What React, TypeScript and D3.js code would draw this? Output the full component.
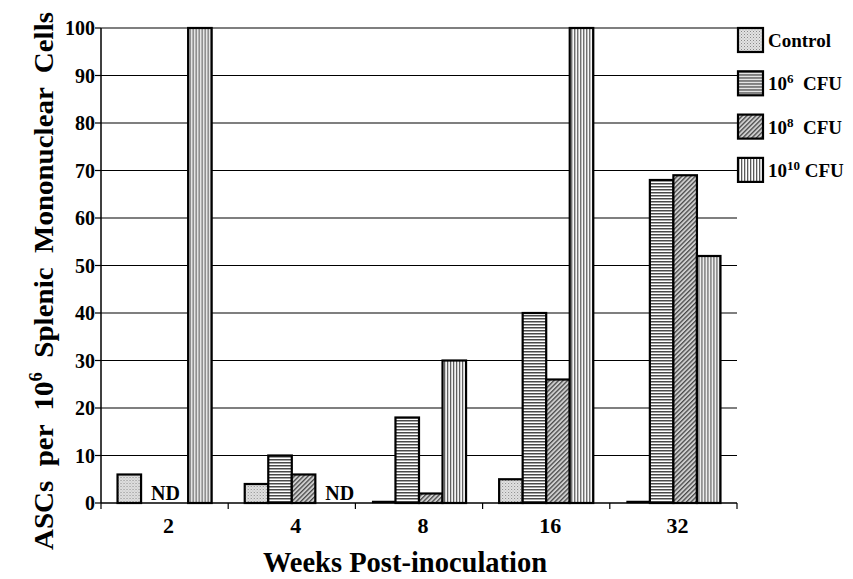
import * as d3 from "d3";

const width = 853;
const height = 579;
const margin = { top: 28, right: 116, bottom: 76, left: 101 };

// data
const weeks = ["2", "4", "8", "16", "32"];
const seriesNames = ["Control", "1e6", "1e8", "1e10"];
const control = [6, 4, 0, 5, 0];
const cfu6 = [null, 10, 18, 40, 68];
const cfu8 = [null, 6, 2, 26, 69];
const cfu10 = [100, null, 30, 100, 52];
const yTicks = [0, 10, 20, 30, 40, 50, 60, 70, 80, 90, 100];
const legendLabels = [
  { base: "Control", exp: "", tail: "" },
  { base: "10", exp: "6", tail: "  CFU" },
  { base: "10", exp: "8", tail: "  CFU" },
  { base: "10", exp: "10", tail: " CFU" },
];

const series: (number | null)[][] = [control, cfu6, cfu8, cfu10];
const fills = ["url(#dots)", "url(#hlines)", "url(#diag)", "url(#vlines)"];
const font = "'Liberation Serif', 'Times New Roman', serif";

const App = () => {
  const x0 = d3
    .scaleBand<string>()
    .domain(weeks)
    .range([margin.left, width - margin.right])
    .paddingInner(0.26)
    .paddingOuter(0.13);
  const x1 = d3
    .scaleBand<string>()
    .domain(seriesNames)
    .range([0, x0.bandwidth()]);
  const y = d3
    .scaleLinear()
    .domain([0, 100])
    .range([height - margin.bottom, margin.top]);

  const step = x0.step();
  const xLeft = margin.left;
  const xRight = width - margin.right;
  const baseY = y(0);

  // ND markers: first missing slot of each run of nulls
  const ndMarks: { week: string; slot: string }[] = [];
  weeks.forEach((w, i) => {
    series.forEach((s, j) => {
      if (s[i] === null && (j === 0 || series[j - 1][i] !== null)) {
        ndMarks.push({ week: w, slot: seriesNames[j] });
      }
    });
  });

  return (
    <svg
      width={width}
      height={height}
      style={{ position: "absolute", left: 0, top: 0, background: "#fff" }}
    >
      <defs>
        <pattern id="dots" width="3" height="3" patternUnits="userSpaceOnUse">
          <rect width="3" height="3" fill="#e2e2e2" />
          <rect x="0" y="0" width="1" height="1" fill="#888" />
          <rect x="1.5" y="1.5" width="1" height="1" fill="#aaa" />
        </pattern>
        <pattern id="hlines" width="4" height="3" patternUnits="userSpaceOnUse">
          <rect width="4" height="3" fill="#fff" />
          <rect y="0" width="4" height="1.5" fill="#4a4a4a" />
        </pattern>
        <pattern
          id="diag"
          width="3.2"
          height="3.2"
          patternUnits="userSpaceOnUse"
          patternTransform="rotate(45)"
        >
          <rect width="3.2" height="3.2" fill="#cfcfcf" />
          <rect width="1.3" height="3.2" fill="#4a4a4a" />
        </pattern>
        <pattern id="vlines" width="3" height="4" patternUnits="userSpaceOnUse">
          <rect width="3" height="4" fill="#fff" />
          <rect x="0" width="1.3" height="4" fill="#5a5a5a" />
        </pattern>
      </defs>

      {/* gridlines and y ticks */}
      {yTicks.map((t) => (
        <g key={t}>
          {t > 0 && (
            <line x1={xLeft} x2={xRight} y1={y(t)} y2={y(t)} stroke="#000" strokeWidth={1.2} />
          )}
          <line x1={xLeft - 6} x2={xLeft} y1={y(t)} y2={y(t)} stroke="#000" strokeWidth={1.2} />
          <text
            x={xLeft - 6}
            y={y(t)}
            dy="0.35em"
            textAnchor="end"
            fontFamily={font}
            fontWeight="bold"
            fontSize={20}
          >
            {t}
          </text>
        </g>
      ))}

      {/* bars */}
      {weeks.map((w, i) => (
        <g key={w} transform={`translate(${x0(w)},0)`}>
          {series.map((s, j) => {
            const v = s[i];
            if (v === null) return null;
            const bx = x1(seriesNames[j]) as number;
            if (v === 0) {
              return (
                <line
                  key={j}
                  x1={bx}
                  x2={bx + x1.bandwidth()}
                  y1={baseY - 1}
                  y2={baseY - 1}
                  stroke="#000"
                  strokeWidth={2.5}
                />
              );
            }
            return (
              <rect
                key={j}
                x={bx}
                y={y(v)}
                width={x1.bandwidth()}
                height={baseY - y(v)}
                fill={fills[j]}
                stroke="#000"
                strokeWidth={2.2}
              />
            );
          })}
        </g>
      ))}

      {/* ND labels */}
      {ndMarks.map((m) => (
        <text
          key={m.week}
          x={(x0(m.week) as number) + (x1(m.slot) as number) + 10}
          y={baseY - 3}
          fontFamily={font}
          fontWeight="bold"
          fontSize={20}
        >
          ND
        </text>
      ))}

      {/* axes */}
      <line x1={xLeft} x2={xLeft} y1={margin.top} y2={baseY} stroke="#000" strokeWidth={1.5} />
      <line x1={xLeft} x2={xRight} y1={baseY} y2={baseY} stroke="#000" strokeWidth={1.5} />
      {d3.range(weeks.length + 1).map((k) => (
        <line
          key={k}
          x1={xLeft + k * step}
          x2={xLeft + k * step}
          y1={baseY}
          y2={baseY + 6}
          stroke="#000"
          strokeWidth={1.2}
        />
      ))}
      {weeks.map((w) => (
        <text
          key={w}
          x={(x0(w) as number) + x0.bandwidth() / 2 + 4}
          y={baseY + 30}
          textAnchor="middle"
          fontFamily={font}
          fontWeight="bold"
          fontSize={22}
        >
          {w}
        </text>
      ))}

      {/* axis titles */}
      <text
        x={405}
        y={572}
        textAnchor="middle"
        fontFamily={font}
        fontWeight="bold"
        fontSize={28.5}
      >
        Weeks Post-inoculation
      </text>
      <text
        transform={`translate(53, 281) rotate(-90)`}
        textAnchor="middle"
        fontFamily={font}
        fontWeight="bold"
        fontSize={28}
        textLength={538}
        lengthAdjust="spacingAndGlyphs"
        xmlSpace="preserve"
      >
        ASCs  per  10<tspan dy={-11} fontSize={18}>6</tspan>
        <tspan dy={11}>  Splenic  Mononuclear  Cells</tspan>
      </text>

      {/* legend */}
      {legendLabels.map((l, i) => {
        const ly = 28 + i * 43.3;
        return (
          <g key={i} transform={`translate(738, ${ly})`}>
            <rect width={25} height={24} fill={fills[i]} stroke="#000" strokeWidth={2.2} />
            <text
              x={30}
              y={19}
              fontFamily={font}
              fontWeight="bold"
              fontSize={19}
              xmlSpace="preserve"
            >
              {l.base}
              {l.exp && (
                <tspan dy={-7} fontSize={13}>
                  {l.exp}
                </tspan>
              )}
              {l.tail && <tspan dy={7}>{l.tail}</tspan>}
            </text>
          </g>
        );
      })}
    </svg>
  );
};

export default App;
